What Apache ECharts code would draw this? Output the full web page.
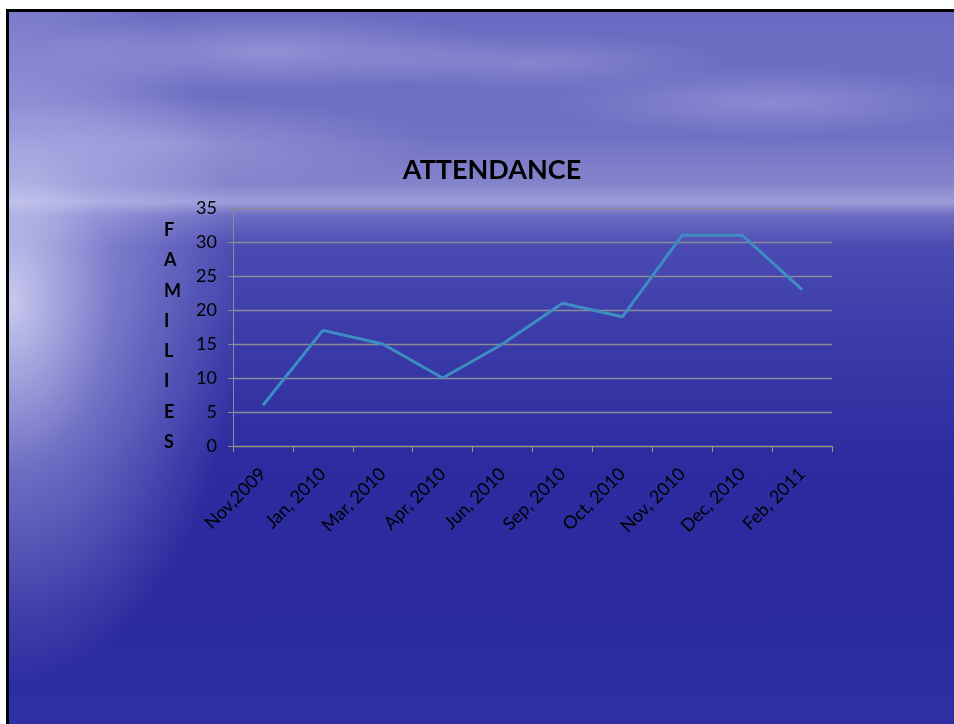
<!DOCTYPE html>
<html><head><meta charset="utf-8">
<script src="https://cdn.jsdelivr.net/npm/echarts@6/dist/echarts.min.js"></script>
<style>
html,body{margin:0;padding:0;background:#fff;}
#wrap{position:absolute;left:0;top:0;width:954px;height:724px;background:#fff;}
#slide{position:absolute;left:6px;top:9px;width:948px;height:715px;border-left:3px solid #000;border-top:3px solid #000;box-sizing:border-box;
background:
 radial-gradient(ellipse 230px 380px at 0px 290px, rgba(235,235,255,0.8), rgba(200,200,245,0.42) 45%, rgba(160,160,230,0) 100%),
 radial-gradient(ellipse 240px 40px at 260px 40px, rgba(200,200,240,0.4), rgba(200,200,240,0) 100%),
 radial-gradient(ellipse 200px 30px at 520px 50px, rgba(190,190,235,0.3), rgba(190,190,235,0) 100%),
 radial-gradient(ellipse 220px 35px at 760px 90px, rgba(190,190,240,0.35), rgba(190,190,240,0) 100%),
 radial-gradient(ellipse 260px 45px at 160px 130px, rgba(200,200,240,0.35), rgba(200,200,240,0) 100%),
 linear-gradient(to bottom, #6a6ac2 0px, #7070c4 120px, #8484cc 172px, #9c9cd8 190px, #6c6cc2 204px, #4a4ab2 235px, #3a3aa8 330px, #2c2ca0 450px, #2a2a9e 600px, #3030a6 715px);
}
#chart{position:absolute;left:0;top:0;width:954px;height:724px;}
</style></head>
<body>
<div id="wrap"><div id="slide"></div><div id="chart"></div></div>
<script>
var categories = ['Nov,2009','Jan, 2010','Mar, 2010','Apr, 2010','Jun, 2010','Sep, 2010','Oct, 2010','Nov, 2010','Dec, 2010','Feb, 2011'];
var families = [6, 17, 15, 10, 15, 21, 19, 31, 31, 23];
var yTicks = {min: 0, max: 35, interval: 5};
var chartTitle = 'ATTENDANCE';
var yTitle = 'FAMILIES';

var chart = echarts.init(document.getElementById('chart'), null, {renderer: 'canvas'});
chart.setOption({
  backgroundColor: 'transparent',
  animation: false,
  title: {
    text: chartTitle, left: 487, top: 152, textAlign: 'center',
    textStyle: {fontFamily: 'Lato', fontWeight: 'bold', fontSize: 27, color: '#000'}
  },
  graphic: [{
    type: 'text', left: 164, top: 215,
    style: {text: yTitle.split('').join('\n'), fontFamily: 'Lato', fontWeight: 'bold', fontSize: 18,
            lineHeight: 30.3, fill: '#000', align: 'center', width: 16}
  }],
  grid: {left: 233, top: 208, right: 122, bottom: 278, containLabel: false},
  xAxis: {
    type: 'category', data: categories, boundaryGap: true,
    axisLine: {lineStyle: {color: '#9c9870', width: 1}},
    axisTick: {show: true, alignWithLabel: false, length: 6, lineStyle: {color: '#9c9870'}},
    axisLabel: {rotate: 45, interval: 0, margin: 25, fontFamily: 'Lato', fontSize: 18, color: '#000'}
  },
  yAxis: {
    type: 'value', min: yTicks.min, max: yTicks.max, interval: yTicks.interval,
    axisLine: {show: true, lineStyle: {color: '#8c8c90', width: 1}},
    axisTick: {show: true, length: 5, lineStyle: {color: '#8c8c90'}},
    axisLabel: {margin: 16, fontFamily: 'Lato', fontSize: 18, color: '#000'},
    splitLine: {show: true, lineStyle: {color: '#8a8a98', width: 1.3}}
  },
  series: [{
    type: 'line', data: families, symbol: 'none',
    lineStyle: {color: '#3d8cc2', width: 3}
  }]
});
</script>
</body></html>
